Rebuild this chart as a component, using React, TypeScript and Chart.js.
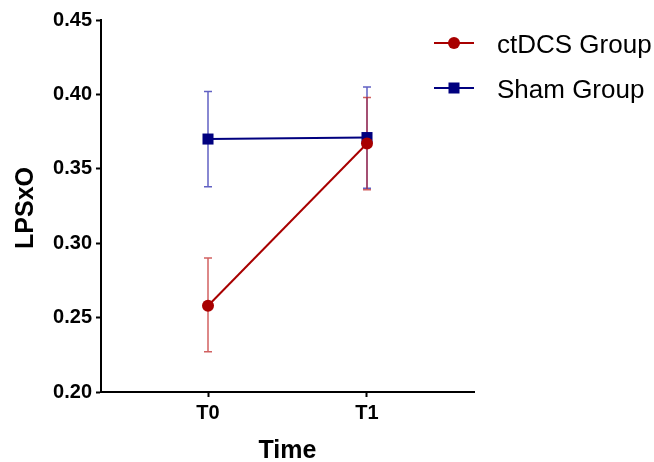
import React, { useEffect, useRef } from 'react';
import { Chart, registerables } from 'chart.js';

Chart.register(...registerables);

const categories = ['T0', 'T1'];
const ctdcsMean = [0.258, 0.367];
const ctdcsUpper = [0.290, 0.398];
const ctdcsLower = [0.227, 0.336];
const shamMean = [0.370, 0.371];
const shamUpper = [0.402, 0.405];
const shamLower = [0.338, 0.337];
const yTicks = [0.2, 0.25, 0.3, 0.35, 0.4, 0.45];
const seriesNames = ['ctDCS Group', 'Sham Group'];
const xTitle = 'Time';
const yTitle = 'LPSxO';

const RED = '#a80000';
const BLUE = '#00007f';
const RED_ERR = 'rgba(190,30,30,0.7)';
const BLUE_ERR = 'rgba(30,30,170,0.7)';
const FONT = '"Liberation Sans", Arial, Helvetica, sans-serif';

const errorBars = [
  { upper: ctdcsUpper, lower: ctdcsLower, color: RED_ERR },
  { upper: shamUpper, lower: shamLower, color: BLUE_ERR },
];

const errorPlugin = {
  id: 'errorBars',
  beforeDatasetsDraw(chart: any) {
    const { ctx } = chart;
    const xs = chart.scales.x;
    const ys = chart.scales.y;
    ctx.save();
    ctx.lineWidth = 1.5;
    [1, 0].forEach((di) => {
      const eb = errorBars[di];
      ctx.strokeStyle = eb.color;
      categories.forEach((_, i) => {
        const x = xs.getPixelForValue(i);
        const yt = ys.getPixelForValue(eb.upper[i]);
        const yb = ys.getPixelForValue(eb.lower[i]);
        ctx.beginPath();
        ctx.moveTo(x, yt);
        ctx.lineTo(x, yb);
        ctx.moveTo(x - 4, yt);
        ctx.lineTo(x + 4, yt);
        ctx.moveTo(x - 4, yb);
        ctx.lineTo(x + 4, yb);
        ctx.stroke();
      });
    });
    ctx.restore();
  },
};

const decorPlugin = {
  id: 'decor',
  afterDraw(chart: any) {
    const { ctx } = chart;
    const xs = chart.scales.x;
    const area = chart.chartArea;
    ctx.save();
    ctx.fillStyle = '#000';
    ctx.font = `bold 25px ${FONT}`;
    ctx.textAlign = 'center';
    ctx.textBaseline = 'alphabetic';
    ctx.fillText(xTitle, (xs.left + xs.right) / 2, 458);
    ctx.save();
    ctx.translate(33, (area.top + area.bottom) / 2 + 2);
    ctx.rotate(-Math.PI / 2);
    ctx.fillText(yTitle, 0, 0);
    ctx.restore();

    // legend
    const rows = [
      { y: 43, color: RED, style: 'circle', name: seriesNames[0] },
      { y: 88, color: BLUE, style: 'rect', name: seriesNames[1] },
    ];
    rows.forEach((r) => {
      ctx.strokeStyle = r.color;
      ctx.lineWidth = 2;
      ctx.beginPath();
      ctx.moveTo(434, r.y);
      ctx.lineTo(474, r.y);
      ctx.stroke();
      ctx.fillStyle = r.color;
      if (r.style === 'circle') {
        ctx.beginPath();
        ctx.arc(454, r.y, 6, 0, Math.PI * 2);
        ctx.fill();
      } else {
        ctx.fillRect(448.5, r.y - 5.5, 11, 11);
      }
      ctx.fillStyle = '#000';
      ctx.font = `26px ${FONT}`;
      ctx.textAlign = 'left';
      ctx.textBaseline = 'alphabetic';
      ctx.fillText(r.name, 497, r.y + 10);
    });
    ctx.restore();
  },
};

export default function App() {
  const ref = useRef<HTMLCanvasElement>(null);
  useEffect(() => {
    if (!ref.current) return;
    const chart = new Chart(ref.current, {
      type: 'line',
      data: {
        datasets: [
          {
            label: seriesNames[0],
            data: ctdcsMean.map((v, i) => ({ x: i, y: v })),
            borderColor: RED,
            backgroundColor: RED,
            borderWidth: 2,
            pointStyle: 'circle',
            pointRadius: 6,
            pointBorderWidth: 0,
          },
          {
            label: seriesNames[1],
            data: shamMean.map((v, i) => ({ x: i, y: v })),
            borderColor: BLUE,
            backgroundColor: BLUE,
            borderWidth: 2,
            pointStyle: 'rect',
            pointRadius: 7.8,
            pointBorderWidth: 0,
          },
        ],
      },
      options: {
        animation: false,
        responsive: false,
        devicePixelRatio: 1,
        layout: { padding: { top: 20, right: 180, left: 0, bottom: 0 } },
        plugins: { legend: { display: false }, tooltip: { enabled: false } },
        scales: {
          x: {
            type: 'linear',
            min: -0.673,
            max: 1.673,
            afterBuildTicks: (s: any) => {
              s.ticks = categories.map((_, i) => ({ value: i }));
            },
            afterFit: (s: any) => {
              s.height = 70;
            },
            grid: { drawOnChartArea: false, tickLength: 5, tickColor: '#000', tickWidth: 2 },
            border: { color: '#000', width: 2 },
            ticks: {
              color: '#000',
              font: { family: FONT, size: 20, weight: 'bold' },
              padding: 4,
              maxRotation: 0,
              callback: (v: any) => categories[v] ?? '',
            },
          },
          y: {
            min: 0.2,
            max: 0.45,
            afterBuildTicks: (s: any) => {
              s.ticks = yTicks.map((v) => ({ value: v }));
            },
            afterFit: (s: any) => {
              s.width = 101;
            },
            grid: { drawOnChartArea: false, tickLength: 5, tickColor: '#000', tickWidth: 2 },
            border: { color: '#000', width: 2 },
            ticks: {
              color: '#000',
              font: { family: FONT, size: 20, weight: 'bold' },
              padding: 4,
              callback: (v: any) => Number(v).toFixed(2),
            },
          },
        },
      },
      plugins: [errorPlugin, decorPlugin],
    } as any);
    return () => chart.destroy();
  }, []);
  return (
    <div style={{ position: 'absolute', left: 0, top: 0, width: 654, height: 462, background: '#fff' }}>
      <canvas ref={ref} width={654} height={462} />
    </div>
  );
}
